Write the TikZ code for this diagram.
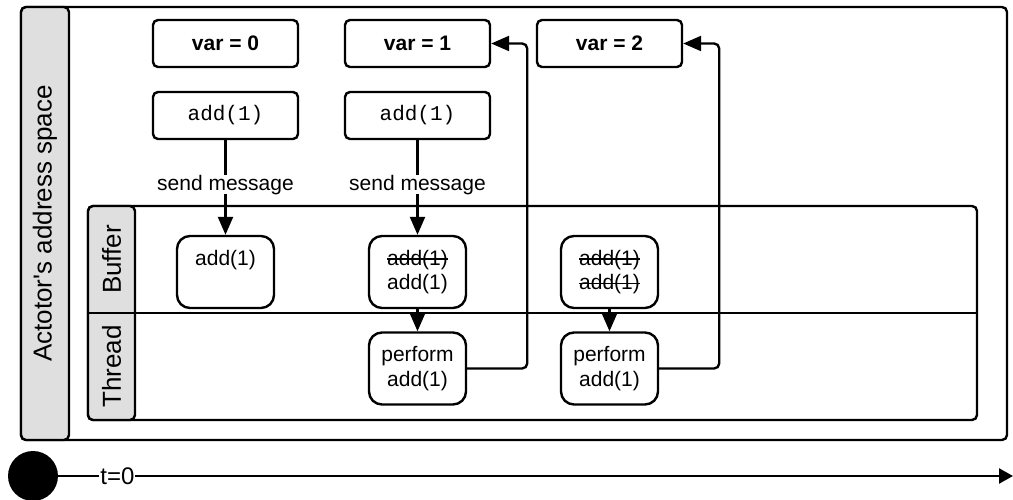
\documentclass[tikz,border=0pt]{standalone}
\usepackage{fontspec}
\setmainfont{Liberation Sans}
\setmonofont{Liberation Mono}
\usetikzlibrary{arrows.meta,positioning}

\newcommand{\crossed}[1]{\setbox0\hbox{#1}\rlap{\rule[0.27em]{\wd0}{1.5pt}}\box0}

\tikzstyle{frame} = [draw, rectangle, rounded corners=5pt, line width=2.4pt]
\tikzstyle{header} = [draw, fill=gray!25, line width=2.4pt, rounded corners=5pt]
\tikzstyle{lane} = [rotate=90, font=\fontsize{26}{30}\selectfont]
\tikzstyle{varbox} = [draw, rectangle, rounded corners=5pt, line width=2.4pt,
    minimum width=145pt, minimum height=47pt, font=\fontsize{21}{25}\selectfont\bfseries]
\tikzstyle{call} = [varbox, font=\fontsize{21}{25}\selectfont\ttfamily]
\tikzstyle{msg} = [draw, rectangle, rounded corners=13pt, line width=2.4pt,
    minimum width=97pt, minimum height=72pt, align=center, inner sep=2pt,
    font=\fontsize{21}{24.5}\selectfont]
\tikzstyle{line} = [draw, line width=2.4pt, -{Triangle[length=18pt,width=15pt]}]

\begin{document}
\begin{tikzpicture}[x=1pt, y=-1pt, node distance=192pt, font=\fontsize{21}{25}\selectfont]
    \useasboundingbox (0,0) rectangle (1013,500);
    % address space
    \node [frame, minimum width=986pt, minimum height=433pt] (space) at (514,223.5) {};
    \path [header] (69,7) -| (21,440) -- (69,440) -- cycle;
    \node [lane] (spacelabel) at (45,223.5) {Actotor\textquotesingle s address space};
    % swimlanes
    \node [frame, minimum width=889pt, minimum height=214pt] (lanes) at (532.5,313) {};
    \path [header] (135,206) -| (88,420) -- (135,420) -- cycle;
    \draw [line width=2.4pt] (lanes.west) -- (lanes.east);
    \node [lane] (bufferlabel) at (111.5,259.5) {Buffer};
    \node [lane] (threadlabel) at (111.5,366.5) {Thread};
    % state and calls
    \node [varbox] (var0) at (225.5,43.5) {var = 0};
    \node [varbox, right of=var0] (var1) {var = 1};
    \node [varbox, right of=var1] (var2) {var = 2};
    \node [call, below of=var0, node distance=72pt] (add0) {add(1)};
    \node [call, below of=var1, node distance=72pt] (add1) {add(1)};
    \node [msg] (buf0) at (225.5,272) {add(1)\\\phantom{add(1)}};
    \node [msg, right of=buf0] (buf1) {\crossed{add(1)}\\add(1)};
    \node [msg, right of=buf1] (buf2) {\crossed{add(1)}\\\crossed{add(1)}};
    \node [msg, below of=buf1, node distance=96.5pt] (thr1) {perform\\add(1)};
    \node [msg, right of=thr1] (thr2) {perform\\add(1)};
    \draw [line] (add0) -- node [pos=0.47, fill=white, inner sep=0pt] {send message} (buf0);
    \draw [line] (add1) -- node [pos=0.47, fill=white, inner sep=0pt] {send message} (buf1);
    \draw [line] (buf1) -- (thr1);
    \draw [line] (buf2) -- (thr2);
    \draw [line, rounded corners=5pt] (thr1.east) -- ++(60,0) |- (var1.east);
    \draw [line, rounded corners=5pt] (thr2.east) -- ++(60,0) |- (var2.east);
    % time line
    \node [circle, fill=black, minimum size=50pt, inner sep=0pt] (start) at (33,476) {};
    \coordinate (finish) at (1013,476);
    \draw [line, -{Triangle[length=14pt,width=15pt]}] (start) -- node [pos=0.062, fill=white, inner sep=1pt, font=\fontsize{24}{28}\selectfont] {t=0} (finish);
\end{tikzpicture}
\end{document}
